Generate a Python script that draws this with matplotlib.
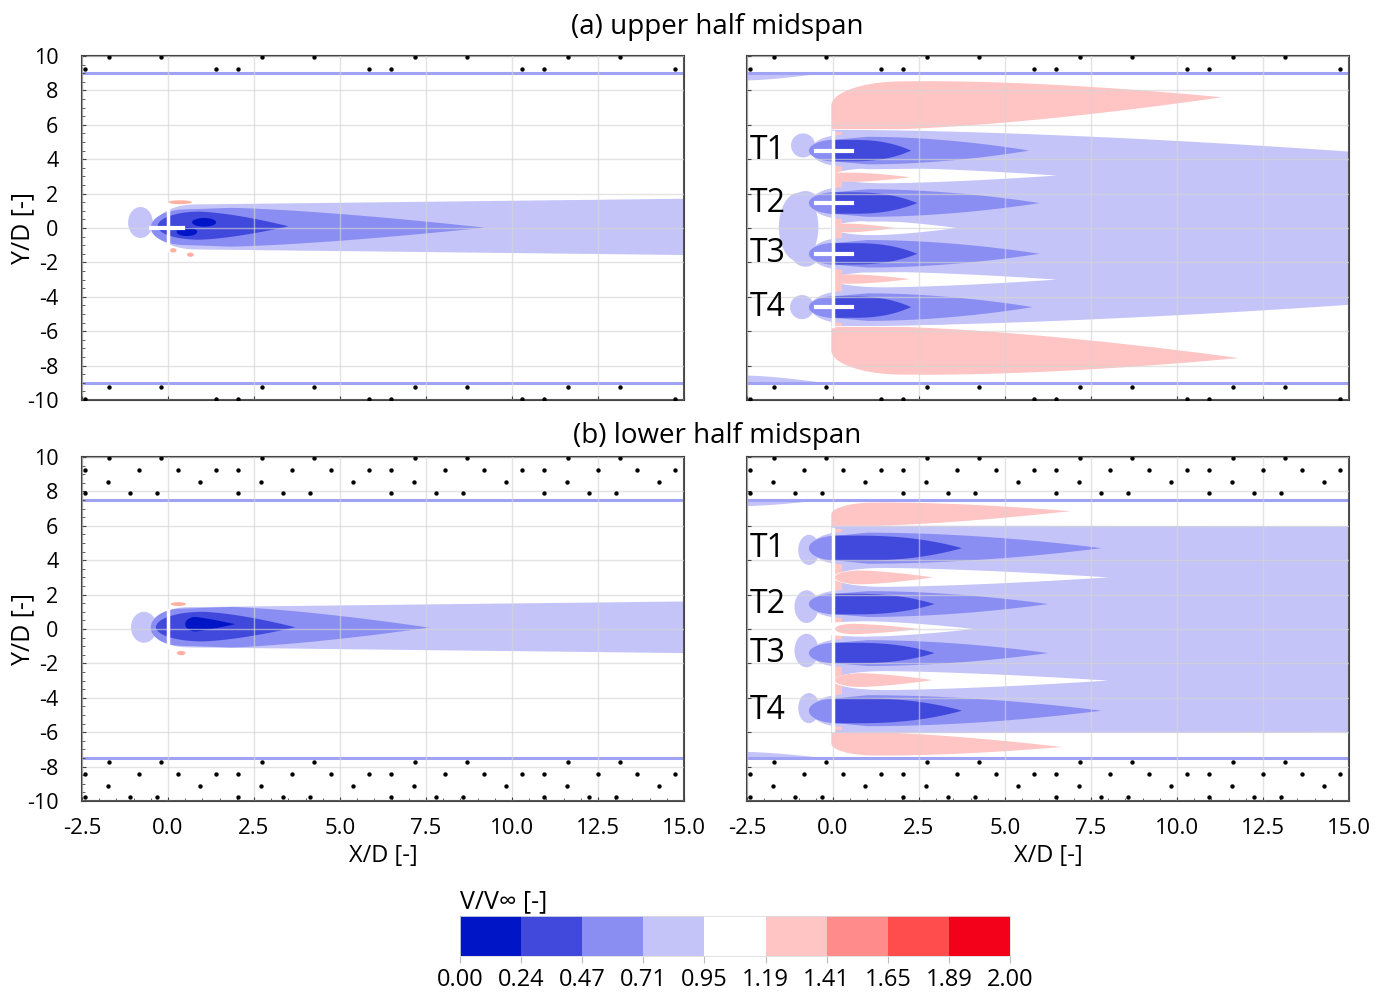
import numpy as np
import matplotlib
matplotlib.use('Agg')
import matplotlib.pyplot as plt
from matplotlib.colors import ListedColormap, BoundaryNorm
from matplotlib.cm import ScalarMappable
from matplotlib.patches import Ellipse
from matplotlib.ticker import MultipleLocator

plt.rcParams['font.family'] = ['Open Sans', 'DejaVu Sans']

# V/Vinf colour levels
levels = [0.00, 0.24, 0.47, 0.71, 0.95, 1.19, 1.41, 1.65, 1.89, 2.00]
level_colors = ['#0016c6', '#4149dd', '#8a8df1', '#c4c4f8', '#ffffff',
                '#ffc4c4', '#ff8b8b', '#ff4d4d', '#f3001b']

x_ticks = [-2.5, 0.0, 2.5, 5.0, 7.5, 10.0, 12.5, 15.0]
y_ticks = [10, 8, 6, 4, 2, 0, -2, -4, -6, -8, -10]

wall_a = 9.0
wall_b = 7.5

# contour lobes: (level, x0, xm, x1, yc, hu, hl, xn, a, p)
lobes_al = [(3, -0.4, 15.0, 45.0, 0.05, 1.65, 1.62, 0.8, 0.8, 1.5),
            (2, -0.5, 1.8, 9.2, 0.02, 1.15, 1.10, 0.5, 0.92, 1.4),
            (1, -0.3, 0.9, 3.5, 0.10, 0.85, 0.78, 0.9, 1.0, 1.5)]
lobes_bl = [(3, -0.5, 15.0, 45.0, 0.10, 1.50, 1.50, 0.6, 0.78, 1.5),
            (2, -0.5, 1.8, 7.6, 0.08, 1.20, 1.15, 0.4, 0.92, 1.4),
            (1, -0.35, 1.0, 3.7, 0.10, 0.90, 0.82, 1.0, 1.0, 1.5),
            (0, 0.5, 0.8, 1.95, 0.28, 0.42, 0.42, 0.8, 1.0, 1.2)]
# upstream discs: (x, y, w, h)
disc_al = [(-0.8, 0.32, 0.72, 1.8)]
disc_bl = [(-0.7, 0.10, 0.75, 1.8)]
cores_al = [(1.05, 0.33, 0.7, 0.5), (0.55, -0.22, 0.6, 0.5)]
specks_al = [(0.35, 1.5, 0.7, 0.22), (0.15, -1.3, 0.2, 0.25), (0.65, -1.55, 0.2, 0.25)]
specks_bl = [(0.3, 1.45, 0.45, 0.22), (0.38, -1.4, 0.25, 0.25)]
rotor_al = (-1.3, 1.4)
rotor_bl = (-1.05, 1.1)

# turbine array (a) upper half
turb_y_a = [4.5, 1.45, -1.5, -4.6]
mid_tip_a = [5.7, 6.0, 6.0, 5.8]
dark_tip_a = [2.27, 2.45, 2.45, 2.27]
mid_hw_a = [0.8, 0.8, 0.8, 0.8]
dark_hw_a = [0.62, 0.62, 0.62, 0.62]
rim_hw_a = [1.08, 1.08, 1.08, 1.08]
disc_ar = [(-0.87, 4.8, 0.7, 1.4), (-0.8, 1.4, 0.8, 1.5), (-0.8, -1.5, 0.8, 1.5),
           (-0.9, -4.6, 0.7, 1.4), (-1.0, 0.05, 1.15, 4.0)]
# (level, x0, xm, x1, yc, hu, hl, yt, sq_up, sq_lo, xn)
outer_ar = [(5, -0.05, 2.0, 11.3, 7.1, 1.42, 1.35, 7.6, False, True, 2.0),
            (5, -0.05, 2.0, 11.8, -7.1, 1.35, 1.42, -7.56, True, False, 2.0),
            (3, -0.05, 0.5, 38.0, -0.05, 5.75, 5.65, -0.05, True, True, 0.5)]
strips_ar = [(4, 0.0, 1.5, 6.5, 3.05, 0.45, 0.45, 3.05, False, False, 1.5),
             (4, 0.0, 1.2, 3.6, 0.0, 0.42, 0.42, 0.0, False, False, 1.2),
             (4, 0.0, 1.5, 6.5, -3.0, 0.45, 0.45, -3.0, False, False, 1.5),
             (5, 0.0, 0.6, 2.25, 2.95, 0.27, 0.27, 2.95, True, True, 0.6),
             (5, 0.0, 0.5, 1.8, 0.0, 0.25, 0.25, 0.0, True, True, 0.5),
             (5, 0.0, 0.6, 2.25, -2.97, 0.27, 0.27, -2.97, True, True, 0.6)]

# turbine array (b) lower half
turb_y_b = [4.7, 1.45, -1.4, -4.75]
mid_tip_b = [7.8, 6.25, 6.25, 7.8]
dark_tip_b = [3.75, 2.95, 2.95, 3.75]
mid_hw_b = [0.9, 0.75, 0.75, 0.9]
dark_hw_b = [0.73, 0.6, 0.6, 0.73]
rim_hw_b = [1.1, 0.95, 0.95, 1.1]
disc_br = [(-0.7, 4.6, 0.62, 1.75), (-0.77, 1.3, 0.7, 1.9), (-0.77, -1.25, 0.7, 1.95),
           (-0.7, -4.6, 0.62, 1.75)]
outer_br = [(5, -0.05, 1.2, 6.9, 6.65, 0.7, 0.65, 6.85, False, True, 1.2),
            (5, -0.05, 1.2, 6.65, -6.65, 0.65, 0.7, -6.86, True, False, 1.2),
            (3, -0.05, 0.5, 400.0, 0.0, 6.0, 6.05, 0.0, True, True, 0.5)]
strips_br = [(4, 0.0, 1.5, 8.0, 3.0, 0.55, 0.55, 3.0, False, False, 1.5),
             (4, -0.7, 1.0, 4.1, 0.0, 0.45, 0.45, 0.0, False, False, 1.0),
             (4, 0.0, 1.5, 8.0, -3.0, 0.55, 0.55, -3.0, False, False, 1.5),
             (5, 0.05, 0.8, 2.9, 3.0, 0.4, 0.4, 3.0, False, False, 0.8),
             (5, 0.05, 0.6, 2.5, 0.0, 0.3, 0.3, 0.0, False, False, 0.6),
             (5, 0.05, 0.8, 2.9, -2.97, 0.4, 0.4, -2.97, False, False, 0.8)]

# wall dots (offsets within one pattern period)
dot_start = -2.41
dot_period = 4.45
dot_rows_a = [(9.94, [0.70, 2.21]), (9.24, [0.0, 3.81])]
dot_rows_b = [(9.94, [0.70, 2.21]), (9.24, [0.0, 1.57, 2.70, 3.81]),
              (8.55, [0.67, 3.34]), (7.9, [0.0, 1.31, 2.09])]
dot_shift_a = 19.2
dot_shift_b = 17.67


def draw_lobe(ax, lvl, x0, xm, x1, yc, hu, hl, yt=None, xn=None, a=1.0, p=1.5,
              sq_up=False, sq_lo=False, z=1.0):
    if yt is None:
        yt = yc
    if xn is None:
        xn = xm
    th = np.linspace(0, np.pi / 2, 60)
    xs_n = x0 + (xn - x0) * (1 - np.cos(th))
    f_n = a * np.sqrt(np.clip(1 - ((xn - xs_n) / (xn - x0)) ** 2, 0, 1))
    xs_g = np.linspace(xn, xm, 30)
    f_g = a + (1 - a) * (xs_g - xn) / max(xm - xn, 1e-9)
    xs_t = np.linspace(xm, x1, 200)
    f_t = 1 - ((xs_t - xm) / (x1 - xm)) ** p
    xs = np.concatenate([xs_n, xs_g, xs_t])
    f = np.concatenate([f_n, f_g, f_t])
    f_sq = np.concatenate([np.full_like(xs_n, a), f_g, f_t])
    fu = f_sq if sq_up else f
    fl = f_sq if sq_lo else f
    s = np.clip((xs - xm) / (x1 - xm), 0, 1)
    yl = yc + (yt - yc) * s
    ax.fill(np.concatenate([xs, xs[::-1]]),
            np.concatenate([yl + hu * fu, (yl - hl * fl)[::-1]]),
            color=level_colors[lvl], lw=0, zorder=z)


def draw_discs(ax, discs, lvl=3, z=1.35):
    for x, y, w, h in discs:
        ax.add_patch(Ellipse((x, y), w, h, color=level_colors[lvl], lw=0, zorder=z))


def draw_dots(ax, rows, shift):
    xs, ys = [], []
    for yr, offs in rows:
        for k in range(5):
            for o in offs:
                x = dot_start + k * dot_period + o
                if x <= 15.05:
                    xs += [x, x]
                    ys += [yr, yr - shift]
    ax.scatter(xs, ys, s=10, color='black', lw=0, zorder=3)


W, H = 1381, 992
fig = plt.figure(figsize=(W / 100, H / 100), dpi=100)


def make_ax(l, t, r, b):
    return fig.add_axes([l / W, 1 - b / H, (r - l) / W, (b - t) / H])


ax_al = make_ax(82, 56, 684, 400)
ax_ar = make_ax(747, 56, 1349, 400)
ax_bl = make_ax(82, 457, 684, 801)
ax_br = make_ax(747, 457, 1349, 801)

for ax in [ax_al, ax_ar, ax_bl, ax_br]:
    ax.set_xlim(-2.5, 15)
    ax.set_ylim(-10, 10)
    ax.set_xticks(x_ticks)
    ax.set_yticks(y_ticks)
    ax.set_axisbelow(False)
    ax.grid(True, color='#d5d5d5', lw=1.0, alpha=0.65)
    ax.tick_params(direction='in', length=3, color='#444444', labelsize=15.5)
    ax.tick_params(axis='y', pad=17)
    ax.tick_params(axis='x', pad=12)
    for sp in ax.spines.values():
        sp.set_color('#444444')
        sp.set_linewidth(1.5)

# single turbine panels
for ax, lobes, discs, specks, rot, wall, rows, shift in [
        (ax_al, lobes_al, disc_al, specks_al, rotor_al, wall_a, dot_rows_a, dot_shift_a),
        (ax_bl, lobes_bl, disc_bl, specks_bl, rotor_bl, wall_b, dot_rows_b, dot_shift_b)]:
    draw_discs(ax, discs, z=1.05)
    for i, (lvl, x0, xm, x1, yc, hu, hl, xn, a, p) in enumerate(lobes):
        draw_lobe(ax, lvl, x0, xm, x1, yc, hu, hl, xn=xn, a=a, p=p, z=1.1 + 0.1 * i)
    for x, y, w, h in specks:
        ax.add_patch(Ellipse((x, y), w, h, color='#ffb0a0', lw=0, zorder=1.8))
    ax.plot([0, 0], rot, color='white', lw=2.5, zorder=3)
    ax.axhline(wall, color='#a0a3f3', lw=2.2, zorder=2)
    ax.axhline(-wall, color='#a0a3f3', lw=2.2, zorder=2)
    draw_dots(ax, rows, shift)

for x, y, w, h in cores_al:
    ax_al.add_patch(Ellipse((x, y), w, h, color=level_colors[0], lw=0, zorder=1.7))
ax_al.plot([-0.5, 0.45], [0, 0], color='white', lw=3, zorder=3)

# turbine array panels
for ax, outer, strips, discs, ty_l, mt_l, dt_l, mh_l, dh_l, rh_l, wall, rows, shift, sl in [
        (ax_ar, outer_ar, strips_ar, disc_ar, turb_y_a, mid_tip_a, dark_tip_a, mid_hw_a,
         dark_hw_a, rim_hw_a, wall_a, dot_rows_a, dot_shift_a, 0.42),
        (ax_br, outer_br, strips_br, disc_br, turb_y_b, mid_tip_b, dark_tip_b, mid_hw_b,
         dark_hw_b, rim_hw_b, wall_b, dot_rows_b, dot_shift_b, 0.35)]:
    for i, (lvl, x0, xm, x1, yc, hu, hl, yt, su, sl_, xn) in enumerate(outer):
        draw_lobe(ax, lvl, x0, xm, x1, yc, hu, hl, yt=yt, xn=xn, sq_up=su, sq_lo=sl_,
                  p=1.6, z=1.0 + 0.02 * i)
    top = max(ty_l) + rh_l[0]
    bot = min(ty_l) - rh_l[-1]
    ax.fill([0.03, 0.25, 0.25, 0.03], [bot, bot, top, top], color=level_colors[5], lw=0, zorder=1.15)
    for i, (lvl, x0, xm, x1, yc, hu, hl, yt, su, sl_, xn) in enumerate(strips):
        draw_lobe(ax, lvl, x0, xm, x1, yc, hu, hl, yt=yt, xn=xn, sq_up=su, sq_lo=sl_,
                  z=1.2 + 0.02 * i)
    draw_discs(ax, discs, z=1.35)
    for ty, mt, dt, mh, dh, rh in zip(ty_l, mt_l, dt_l, mh_l, dh_l, rh_l):
        draw_lobe(ax, 3, -0.65, 1.0, 9.0, ty, rh, rh, xn=0.3, a=0.85, p=2.0, z=1.4)
        draw_lobe(ax, 2, -0.7, 1.0, mt, ty, mh, mh, xn=0.1, a=0.8, p=1.9, z=1.5)
        draw_lobe(ax, 1, 0.05, 0.6, dt, ty, dh, dh, xn=0.2, sq_up=True, sq_lo=True, p=2.4, z=1.6)
    # boundary layer slivers at the walls
    draw_lobe(ax, 3, -2.6, -2.5, -0.3, wall, 0.0, sl, z=1.3)
    draw_lobe(ax, 3, -2.6, -2.5, -0.3, -wall, sl, 0.0, z=1.3)
    ax.plot([0, 0], [bot, top], color='white', lw=2.5, zorder=3)
    ax.axhline(wall, color='#a0a3f3', lw=2.2, zorder=2)
    ax.axhline(-wall, color='#a0a3f3', lw=2.2, zorder=2)
    draw_dots(ax, rows, shift)
    for k, ty in enumerate(ty_l):
        ax.text(-1.9, ty, 'T%d' % (k + 1), fontsize=23, ha='center', va='center', zorder=4)

for ty in turb_y_a:
    ax_ar.plot([-0.5, 0.55], [ty, ty], color='white', lw=3, zorder=3)

# tick labels
for ax in [ax_al, ax_ar]:
    ax.tick_params(labelbottom=False)
for ax in [ax_ar, ax_br]:
    ax.tick_params(labelleft=False)
for ax in [ax_al, ax_bl]:
    ax.yaxis.set_minor_locator(MultipleLocator(0.5))
    ax.tick_params(which='minor', axis='y', direction='in', length=2, color='#444444')
    ax.set_yticklabels([str(v) for v in y_ticks])
    ax.set_ylabel('Y/D [-]', fontsize=18)
    ax.yaxis.set_label_coords(-0.078, 0.5)
for ax in [ax_bl, ax_br]:
    ax.xaxis.set_minor_locator(MultipleLocator(0.5))
    ax.tick_params(which='minor', axis='x', direction='in', length=2, color='#444444')
    ax.set_xticklabels(['%.1f' % v for v in x_ticks])
    ax.tick_params(axis='x', labelsize=16)
    ax.set_xlabel('X/D [-]', fontsize=17, labelpad=4)

fig.text(717 / W, 1 - 27 / H, '(a) upper half midspan', fontsize=20, ha='center', va='center')
fig.text(717 / W, 1 - 436 / H, '(b) lower half midspan', fontsize=20, ha='center', va='center')

# colour bar
cax = make_ax(460, 916, 1010, 956)
cmap = ListedColormap(level_colors)
norm = BoundaryNorm(levels, cmap.N)
cb = fig.colorbar(ScalarMappable(norm=norm, cmap=cmap), cax=cax, orientation='horizontal',
                  ticks=levels, spacing='uniform')
cb.outline.set_edgecolor('#dddddd')
cb.outline.set_linewidth(0.6)
cb.ax.set_xticklabels(['%.2f' % v for v in levels])
cb.ax.tick_params(labelsize=17, length=5, color='#bbbbbb')
fig.text(460 / W, 1 - 902 / H, 'V/V\u221e [-]', fontsize=18, ha='left', va='center')

fig.savefig('out.png', dpi=100)
